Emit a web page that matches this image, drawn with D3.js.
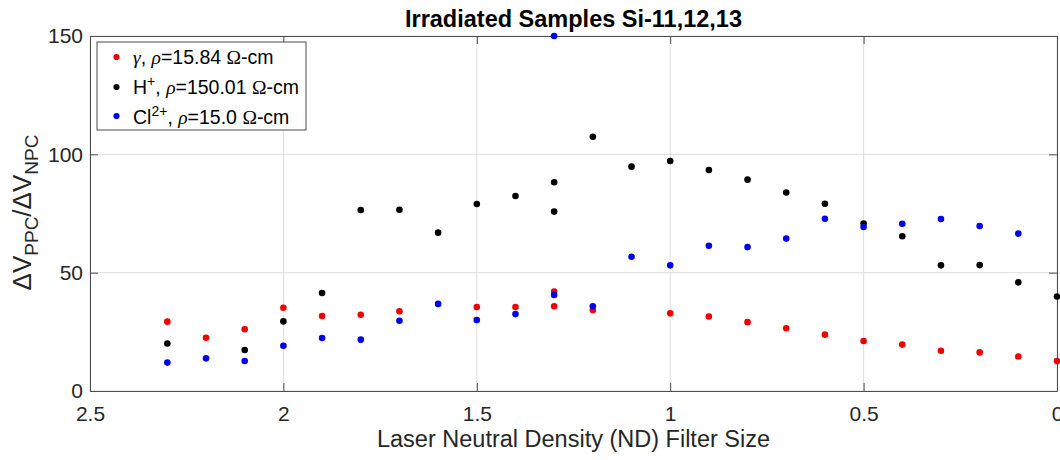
<!DOCTYPE html>
<html>
<head>
<meta charset="utf-8">
<script src="https://cdn.jsdelivr.net/npm/d3@7"></script>
<style>
  html, body { margin: 0; padding: 0; background: #fff; }
  svg { display: block; font-family: "Liberation Sans", Arial, Helvetica, sans-serif; }
</style>
</head>
<body>
<svg id="chart" width="1060" height="460"></svg>
<script>
// ---- Data ----
const gammaX = [2.3, 2.2, 2.1, 2.0, 1.9, 1.8, 1.7, 1.5, 1.4, 1.3, 1.3, 1.2, 1.0, 0.9, 0.8, 0.7, 0.6, 0.5, 0.4, 0.3, 0.2, 0.1, 0.0];
const gammaY = [29.3, 22.5, 26.1, 35.2, 31.7, 32.2, 33.7, 35.5, 35.5, 42.0, 35.8, 34.2, 32.8, 31.5, 29.1, 26.5, 23.8, 21.1, 19.6, 17.0, 16.3, 14.6, 12.7];

const protonX = [2.3, 2.1, 2.0, 1.9, 1.8, 1.7, 1.6, 1.5, 1.4, 1.3, 1.3, 1.2, 1.1, 1.0, 0.9, 0.8, 0.7, 0.6, 0.5, 0.4, 0.3, 0.2, 0.1, 0.0];
const protonY = [20.1, 17.3, 29.4, 41.4, 76.5, 76.6, 66.9, 79.0, 82.4, 88.2, 75.8, 107.4, 94.8, 97.2, 93.4, 89.3, 83.9, 79.1, 70.8, 65.4, 53.1, 53.2, 45.9, 39.9];

const chlorineX = [2.3, 2.2, 2.1, 2.0, 1.9, 1.8, 1.7, 1.6, 1.5, 1.4, 1.3, 1.3, 1.2, 1.1, 1.0, 0.9, 0.8, 0.7, 0.6, 0.5, 0.4, 0.3, 0.2, 0.1];
const chlorineY = [12.0, 13.8, 12.7, 19.1, 22.4, 21.7, 29.7, 36.8, 30.0, 32.5, 150.0, 40.6, 35.8, 56.7, 53.1, 61.4, 60.8, 64.4, 72.8, 69.3, 70.7, 72.7, 69.7, 66.5];

const xTicks = [2.5, 2, 1.5, 1, 0.5, 0];
const yTicks = [0, 50, 100, 150];

const series = [
  { name: "gamma", xs: gammaX, ys: gammaY, color: "#ee0000" },
  { name: "proton", xs: protonX, ys: protonY, color: "#000000" },
  { name: "chlorine", xs: chlorineX, ys: chlorineY, color: "#0000ee" }
];

// ---- Layout ----
const svg = d3.select("#chart");
const L = 90, R = 1057, T = 36, B = 391;
const x = d3.scaleLinear().domain([2.5, 0]).range([L, R]);
const y = d3.scaleLinear().domain([0, 150]).range([B, T]);
const axisColor = "#4d4d4d";
const textColor = "#262626";

// grid
const grid = svg.append("g");
xTicks.forEach(t => {
  grid.append("line").attr("x1", x(t)).attr("x2", x(t)).attr("y1", T).attr("y2", B)
    .attr("stroke", "#dedede").attr("stroke-width", 1);
});
yTicks.forEach(t => {
  grid.append("line").attr("x1", L).attr("x2", R).attr("y1", y(t)).attr("y2", y(t))
    .attr("stroke", "#dedede").attr("stroke-width", 1);
});

// axes (MATLAB-style inward ticks, box)
const tickLen = 8;
const xAxisB = d3.axisBottom(x).tickValues(xTicks).tickSizeInner(-tickLen).tickSizeOuter(0).tickPadding(15)
  .tickFormat(d => d3.format("")(d));
const xAxisT = d3.axisTop(x).tickValues(xTicks).tickSizeInner(-tickLen).tickSizeOuter(0).tickFormat("");
const yAxisL = d3.axisLeft(y).tickValues(yTicks).tickSizeInner(-tickLen).tickSizeOuter(0).tickPadding(7);
const yAxisR = d3.axisRight(y).tickValues(yTicks).tickSizeInner(-tickLen).tickSizeOuter(0).tickFormat("");

function styleAxis(g) {
  g.select(".domain").attr("stroke", axisColor);
  g.selectAll(".tick line").attr("stroke", axisColor);
  g.selectAll(".tick text").attr("fill", textColor).style("font-size", "21px")
    .style("font-family", "'Liberation Sans', Arial, sans-serif");
}
svg.append("g").attr("transform", `translate(0,${B})`).call(xAxisB).call(styleAxis);
svg.append("g").attr("transform", `translate(0,${T})`).call(xAxisT).call(styleAxis);
svg.append("g").attr("transform", `translate(${L},0)`).call(yAxisL).call(styleAxis);
svg.append("g").attr("transform", `translate(${R},0)`).call(yAxisR).call(styleAxis);

// points
series.forEach(s => {
  const pts = s.xs.map((xv, i) => [xv, s.ys[i]]);
  svg.append("g").selectAll("circle").data(pts).join("circle")
    .attr("cx", d => x(d[0])).attr("cy", d => y(d[1])).attr("r", 3.3)
    .attr("fill", s.color);
});

// title
svg.append("text").attr("x", (L + R) / 2).attr("y", 27).attr("text-anchor", "middle")
  .attr("fill", "#000").style("font-size", "23.5px").style("font-weight", "bold")
  .text("Irradiated Samples Si-11,12,13");

// x label
svg.append("text").attr("x", (L + R) / 2).attr("y", 447).attr("text-anchor", "middle")
  .attr("fill", textColor).style("font-size", "23.5px")
  .text("Laser Neutral Density (ND) Filter Size");

// y label
const yl = svg.append("text").attr("transform", "translate(31,212.5) rotate(-90)")
  .attr("text-anchor", "middle").attr("fill", textColor).style("font-size", "26px");
yl.append("tspan").text("ΔV");
yl.append("tspan").attr("dy", 7).style("font-size", "19px").text("PPC");
yl.append("tspan").attr("dy", -7).text("/ΔV");
yl.append("tspan").attr("dy", 7).style("font-size", "19px").text("NPC");

// legend
const lg = svg.append("g");
lg.append("rect").attr("x", 97).attr("y", 42).attr("width", 209).attr("height", 88)
  .attr("fill", "#fff").attr("stroke", axisColor).attr("stroke-width", 1);
const entries = [
  { color: series[0].color, cy: 57, base: 63.5, parts: [["γ", "italic"], [", ", "normal"], ["ρ", "italic"], ["=15.84 ", "normal"], ["Ω", "serif"], ["-cm", "normal"]] },
  { color: series[1].color, cy: 87, base: 93.5, parts: [["H", "normal"], ["+", "sup"], [", ", "normal"], ["ρ", "italic"], ["=150.01 ", "normal"], ["Ω", "serif"], ["-cm", "normal"]] },
  { color: series[2].color, cy: 116, base: 123.5, parts: [["Cl", "normal"], ["2+", "sup"], [", ", "normal"], ["ρ", "italic"], ["=15.0 ", "normal"], ["Ω", "serif"], ["-cm", "normal"]] }
];
entries.forEach(e => {
  lg.append("circle").attr("cx", 116.5).attr("cy", e.cy).attr("r", 3.1).attr("fill", e.color);
  const t = lg.append("text").attr("x", 133).attr("y", e.base).attr("fill", "#000")
    .style("font-size", "19.5px");
  let shifted = false;
  e.parts.forEach(p => {
    const ts = t.append("tspan").text(p[0]);
    if (p[1] === "italic") {
      ts.style("font-style", "italic").style("font-family", "'Liberation Serif', 'Times New Roman', serif");
    }
    if (p[1] === "serif") {
      ts.style("font-family", "'Liberation Serif', 'Times New Roman', serif");
    }
    if (p[1] === "sup") {
      ts.attr("dy", -8).style("font-size", "14px");
      shifted = true;
    } else if (shifted) {
      ts.attr("dy", 8);
      shifted = false;
    }
  });
});
</script>
</body>
</html>
